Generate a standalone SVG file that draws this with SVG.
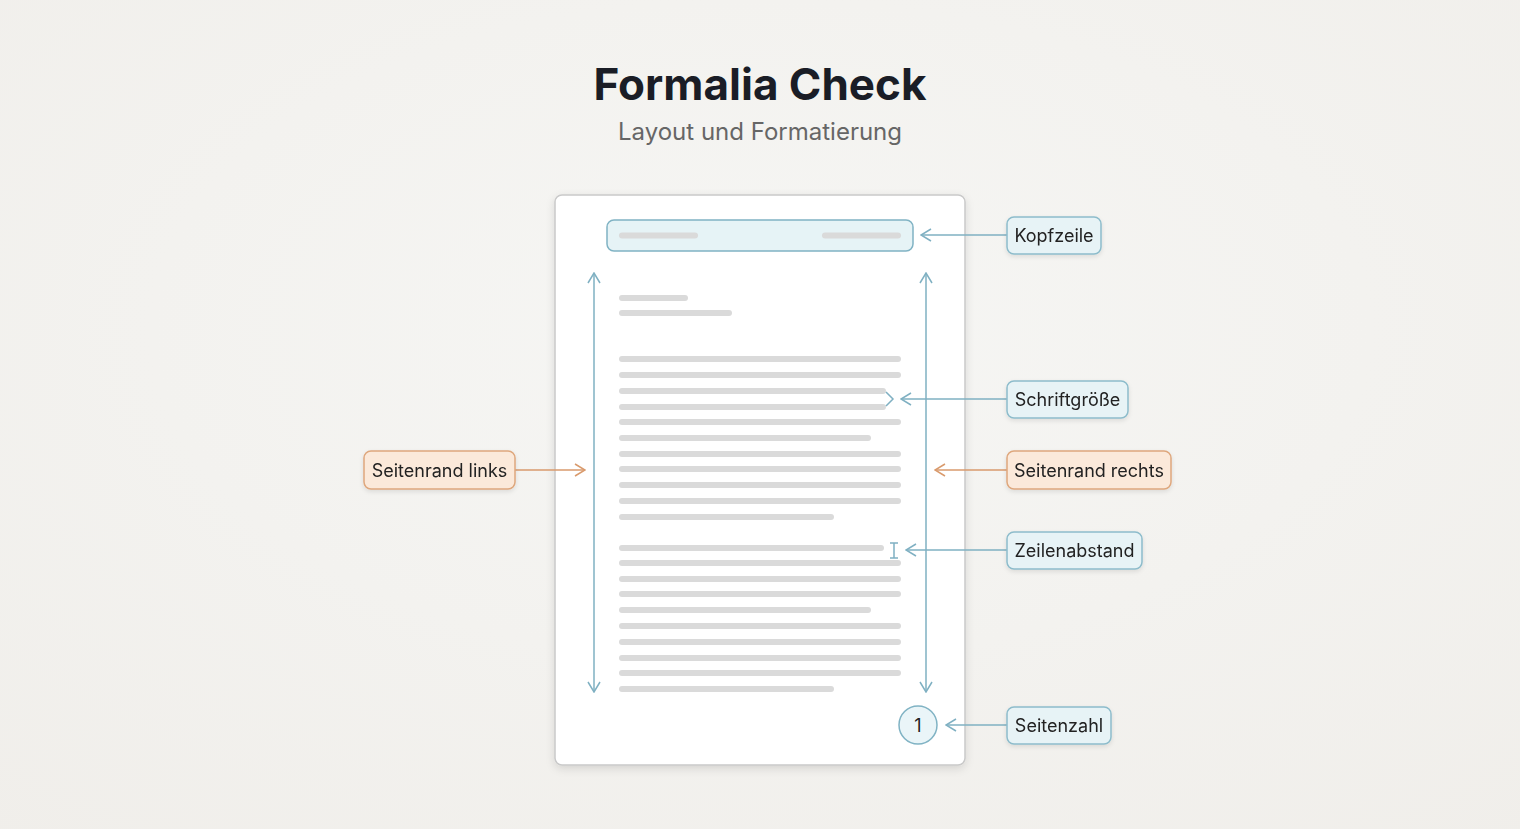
<svg xmlns="http://www.w3.org/2000/svg" width="1520" height="829" viewBox="0 0 1520 829">
<defs>
<radialGradient id="bg" cx="0.5" cy="0.4" r="0.8">
<stop offset="0" stop-color="#f6f6f4"/>
<stop offset="1" stop-color="#f0eeea"/>
</radialGradient>
<filter id="sh" x="-10%" y="-10%" width="120%" height="120%">
<feDropShadow dx="0" dy="3" stdDeviation="4" flood-color="#000" flood-opacity="0.12"/>
</filter>
<filter id="lsh" x="-10%" y="-20%" width="120%" height="150%">
<feDropShadow dx="0" dy="2" stdDeviation="2" flood-color="#000" flood-opacity="0.10"/>
</filter>
<marker id="ab" viewBox="0 0 12 14" refX="11" refY="7" markerWidth="12" markerHeight="14" markerUnits="userSpaceOnUse" orient="auto-start-reverse">
<path d="M1,1 L11,7 L1,13" fill="none" stroke="#7fb0c2" stroke-width="1.5"/>
</marker>
<marker id="ao" viewBox="0 0 12 14" refX="11" refY="7" markerWidth="12" markerHeight="14" markerUnits="userSpaceOnUse" orient="auto-start-reverse">
<path d="M1,1 L11,7 L1,13" fill="none" stroke="#d99a6c" stroke-width="1.5"/>
</marker>
</defs>
<style>
.t{font-family:Inter,"Liberation Sans",sans-serif;}
.lbl{font-family:Inter,"Liberation Sans",sans-serif;font-size:18px;fill:#222;}
.bl{fill:#e7f3f6;stroke:#8dbccb;stroke-width:1.5;}
.or{fill:#fbe9da;stroke:#dea77d;stroke-width:1.5;}
.ln{stroke:#dadada;stroke-width:6;stroke-linecap:round;}
.cb{stroke:#7fb0c2;stroke-width:1.5;fill:none;}
.co{stroke:#d99a6c;stroke-width:1.5;fill:none;}
</style>
<rect width="1520" height="829" fill="url(#bg)"/>
<text class="t" x="760" y="100" text-anchor="middle" font-size="44" font-weight="700" fill="#1a1d26">Formalia Check</text>
<text class="t" x="760" y="140" text-anchor="middle" font-size="24" fill="#666">Layout und Formatierung</text>

<g id="page">
<rect x="555" y="195" width="410" height="570" rx="7" fill="#fff" stroke="#c9c9c9" stroke-width="1.5" filter="url(#sh)"/>
<rect x="607" y="220" width="306" height="31" rx="7" fill="#e6f3f6" stroke="#80b3c4" stroke-width="1.5"/>
<line class="ln" x1="622" y1="235.5" x2="695" y2="235.5"/>
<line class="ln" x1="825" y1="235.5" x2="898" y2="235.5"/>
<g>
<line class="ln" x1="622" y1="298" x2="685" y2="298"/>
<line class="ln" x1="622" y1="313" x2="729" y2="313"/>
<line class="ln" x1="622" y1="359" x2="898" y2="359"/>
<line class="ln" x1="622" y1="375" x2="898" y2="375"/>
<line class="ln" x1="622" y1="391" x2="883" y2="391"/>
<line class="ln" x1="622" y1="407" x2="883" y2="407"/>
<line class="ln" x1="622" y1="422" x2="898" y2="422"/>
<line class="ln" x1="622" y1="438" x2="868" y2="438"/>
<line class="ln" x1="622" y1="454" x2="898" y2="454"/>
<line class="ln" x1="622" y1="469" x2="898" y2="469"/>
<line class="ln" x1="622" y1="485" x2="898" y2="485"/>
<line class="ln" x1="622" y1="501" x2="898" y2="501"/>
<line class="ln" x1="622" y1="517" x2="831" y2="517"/>
<line class="ln" x1="622" y1="548" x2="881" y2="548"/>
<line class="ln" x1="622" y1="563" x2="898" y2="563"/>
<line class="ln" x1="622" y1="579" x2="898" y2="579"/>
<line class="ln" x1="622" y1="594" x2="898" y2="594"/>
<line class="ln" x1="622" y1="610" x2="868" y2="610"/>
<line class="ln" x1="622" y1="626" x2="898" y2="626"/>
<line class="ln" x1="622" y1="642" x2="898" y2="642"/>
<line class="ln" x1="622" y1="658" x2="898" y2="658"/>
<line class="ln" x1="622" y1="673" x2="898" y2="673"/>
<line class="ln" x1="622" y1="689" x2="831" y2="689"/>
</g>
<path class="cb" d="M886,392 L893,399 L886,406"/>
<path class="cb" d="M890,543 L898,543 M894,543 L894,558 M890,558 L898,558"/>
<circle cx="918" cy="725" r="19" fill="#eaf5f8" stroke="#80b3c4" stroke-width="1.5"/>
<text class="lbl" x="918" y="731.5" text-anchor="middle">1</text>
</g>

<g id="connectors">
<line class="cb" x1="594" y1="273" x2="594" y2="692" marker-start="url(#ab)" marker-end="url(#ab)"/>
<line class="cb" x1="926" y1="273" x2="926" y2="692" marker-start="url(#ab)" marker-end="url(#ab)"/>
<line class="cb" x1="1007" y1="235" x2="921" y2="235" marker-end="url(#ab)"/>
<line class="cb" x1="1007" y1="399" x2="901" y2="399" marker-end="url(#ab)"/>
<line class="co" x1="1007" y1="470" x2="935" y2="470" marker-end="url(#ao)"/>
<line class="co" x1="515" y1="470" x2="585" y2="470" marker-end="url(#ao)"/>
<line class="cb" x1="1007" y1="550" x2="906" y2="550" marker-end="url(#ab)"/>
<line class="cb" x1="1007" y1="725" x2="946" y2="725" marker-end="url(#ab)"/>
</g>

<g id="n-kopfzeile" filter="url(#lsh)">
<rect class="bl" x="1007" y="217" width="94" height="37" rx="7"/>
<text class="lbl" x="1054" y="242" text-anchor="middle">Kopfzeile</text>
</g>
<g id="n-schriftgroesse" filter="url(#lsh)">
<rect class="bl" x="1007" y="381" width="121" height="37" rx="7"/>
<text class="lbl" x="1067.5" y="406" text-anchor="middle">Schriftgröße</text>
</g>
<g id="n-seitenrand-rechts" filter="url(#lsh)">
<rect class="or" x="1007" y="451" width="164" height="38" rx="7"/>
<text class="lbl" x="1089" y="477" text-anchor="middle">Seitenrand rechts</text>
</g>
<g id="n-seitenrand-links" filter="url(#lsh)">
<rect class="or" x="364" y="451" width="151" height="38" rx="7"/>
<text class="lbl" x="439.5" y="477" text-anchor="middle">Seitenrand links</text>
</g>
<g id="n-zeilenabstand" filter="url(#lsh)">
<rect class="bl" x="1007" y="532" width="135" height="37" rx="7"/>
<text class="lbl" x="1074.5" y="557" text-anchor="middle">Zeilenabstand</text>
</g>
<g id="n-seitenzahl" filter="url(#lsh)">
<rect class="bl" x="1007" y="707" width="104" height="37" rx="7"/>
<text class="lbl" x="1059" y="732" text-anchor="middle">Seitenzahl</text>
</g>
</svg>
